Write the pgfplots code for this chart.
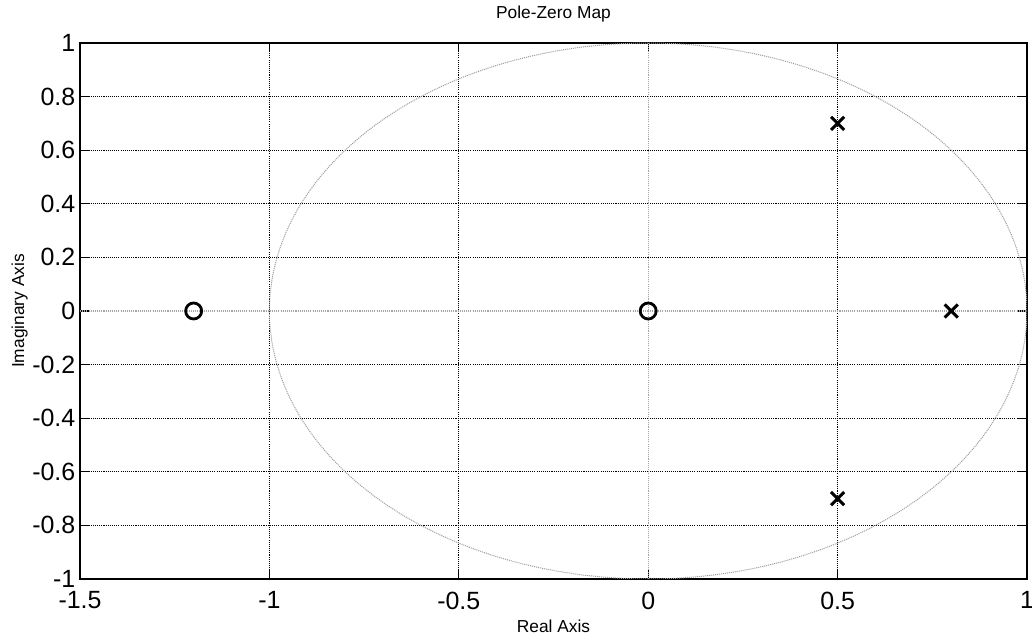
\documentclass[border=0pt]{standalone}
\usepackage{fontspec}
\setmainfont{Liberation Sans}
\usepackage{pgfplots}
\pgfplotsset{compat=1.18}
\usetikzlibrary{calc}
\begin{document}
\begin{tikzpicture}
\begin{axis}[name=ax, scale only axis, width=710.25pt, height=402pt,
  xmin=-1.5, xmax=1, ymin=-1, ymax=1,
  xtick={-1.5,-1,-0.5,0,0.5,1},
  ytick={-1,-0.8,-0.6,-0.4,-0.2,0,0.2,0.4,0.6,0.8,1},
  xtick pos=both, ytick pos=both, ticklabel pos=left,
  grid=major,
  major grid style={black, line width=0.6pt, dash pattern=on 0.8pt off 0.8pt},
  tick align=inside, major tick length=7pt,
  axis line style={black, line width=1.2pt},
  every tick/.style={black, line width=1pt},
  tick label style={font=\fontsize{18.7}{20}\selectfont},
  xticklabel style={yshift=-6pt},
  /pgf/number format/assume math mode=true,
  title={Pole-Zero Map},
  title style={font=\fontsize{13}{15}\selectfont, at={(axis description cs:0.5,1.0299)}, anchor=base},
  xlabel={Real Axis},
  xlabel style={font=\fontsize{13}{15}\selectfont, at={(axis description cs:0.5,-0.0989)}, anchor=base},
  ylabel={Imaginary Axis},
  ylabel style={font=\fontsize{13}{15}\selectfont, at={(axis description cs:-0.0591,0.5)}, anchor=base},
]
\addplot[gray!75, line width=0.75pt, dash pattern=on 0.8pt off 0.7pt, domain=0:360, samples=240, smooth] ({cos(x)},{sin(x)});
\addplot[gray!70, line width=0.9pt, dash pattern=on 0.8pt off 0.8pt] coordinates {(-1.5,0) (1,0)};
\addplot[gray!70, line width=0.9pt, dash pattern=on 0.8pt off 0.8pt] coordinates {(0,-1) (0,1)};
% zeros
\addplot[only marks, mark=o, mark size=6pt, line width=2.1pt, black] coordinates {(-1.2,0) (0,0)};
% poles
\addplot[only marks, mark=x, mark size=7pt, line width=2.2pt, black] coordinates {(0.5,0.7) (0.5,-0.7) (0.8,0)};
\end{axis}
\pgfresetboundingbox
\path[use as bounding box] ($(ax.south west)+(-60pt,-41.25pt)$) rectangle ($(ax.north east)+(3.75pt,32.25pt)$);
\end{tikzpicture}
\end{document}
